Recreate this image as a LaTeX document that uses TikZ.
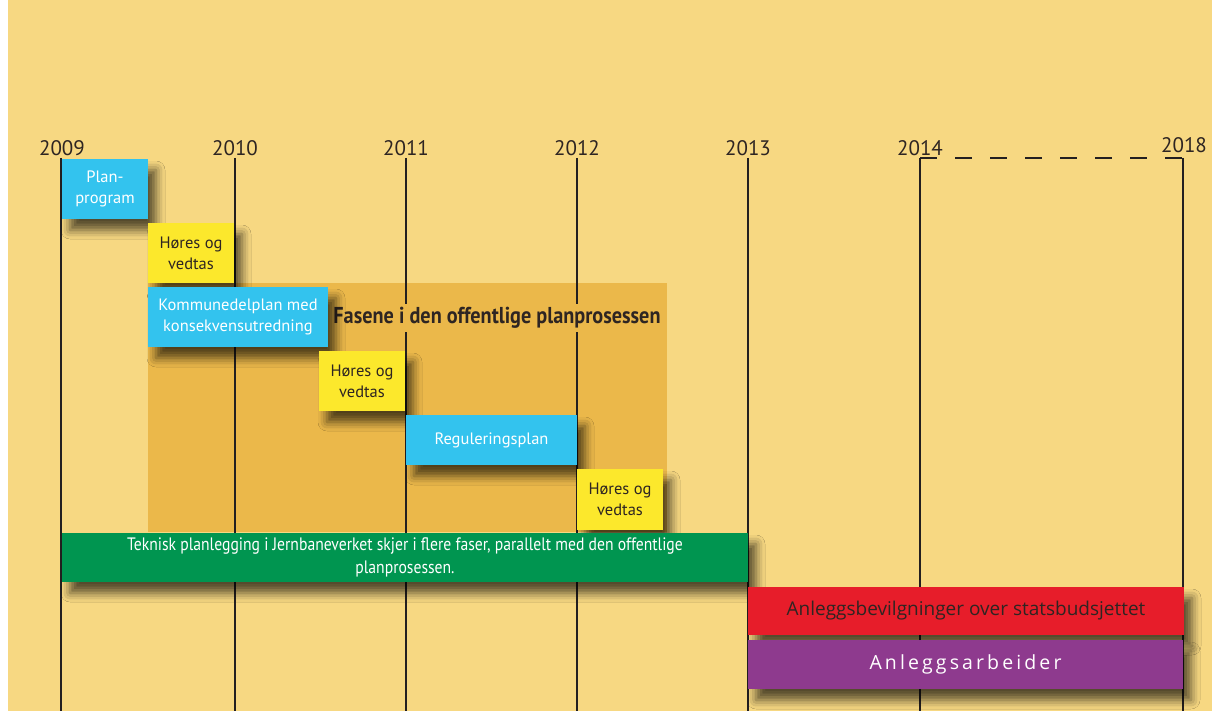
\documentclass[tikz,border=0pt]{standalone}
\usepackage{fontspec}
\setmainfont{PT Sans}
\newfontfamily\narrowfont[FakeStretch=0.87]{PT Sans}
\newfontfamily\titlefont[FakeStretch=0.88]{PT Sans}
\newfontfamily\widefont{Open Sans}
\usetikzlibrary{shadows.blur}

\definecolor{bgyellow}{HTML}{F7D882}
\definecolor{phaseorange}{HTML}{EBB84A}
\definecolor{planblue}{HTML}{33C3EE}
\definecolor{hearyellow}{HTML}{FCE82C}
\definecolor{techgreen}{HTML}{009550}
\definecolor{budgetred}{HTML}{E71D2A}
\definecolor{buildpurple}{HTML}{8E3A8E}
\definecolor{textdark}{HTML}{2E2522}
\definecolor{linedark}{HTML}{231F20}

\tikzset{
  yearline/.style={line width=2pt, draw=linedark},
  yearlabel/.style={anchor=base, text=textdark, font=\fontsize{21}{21}\selectfont},
  phase/.style={rectangle, inner sep=0pt, align=center,
    blur shadow={shadow xshift=8pt, shadow yshift=-11pt, shadow blur radius=9pt, shadow opacity=65}},
  planbox/.style={phase, fill=planblue, text=white, font=\fontsize{16.5}{21}\selectfont},
  hearbox/.style={phase, fill=hearyellow, text=textdark, font=\fontsize{16.5}{21}\selectfont},
}

\begin{document}
\begin{tikzpicture}[x=1pt, y=-1pt]
      \useasboundingbox (0,0) rectangle (1219,711);
      \fill[bgyellow] (8,0) rectangle (1212,711);

      % Area for the public planning process
      \node[fill=phaseorange, inner sep=0pt, minimum width=519pt, minimum height=249pt] (offentlig) at (407.5,407.5) {};

      % Year lines
      \foreach \yr/\xx in {2009/61, 2010/235, 2011/406, 2012/577, 2013/748, 2014/920, 2018/1183} {
        \coordinate (top\yr) at (\xx,158);
        \coordinate (bot\yr) at (\xx,711);
        \draw[yearline] (top\yr) -- (bot\yr);
      }
      \foreach \yr/\xx in {2009/62, 2010/235, 2011/406, 2012/577, 2013/748, 2014/920} {
        \node[yearlabel] (lab\yr) at (\xx,156) {\yr};
      }
      \node[yearlabel] (lab2018) at (1184,153) {2018};
      \draw[yearline, dash pattern=on 17pt off 18pt] (top2014) -- (top2018);

      \node[fill=phaseorange, inner xsep=1pt, inner ysep=3pt, text=textdark,
        font=\titlefont\bfseries\fontsize{23}{23}\selectfont] (fasene) at (497,318) {Fasene i den offentlige planprosessen};

      % Phases
      \node[planbox, minimum width=86pt, minimum height=60pt] (planprogram) at (105,189) {Plan-\\program};
      \node[hearbox, minimum width=86pt, minimum height=60pt] (hoering1) at (191,253) {Høres og\\vedtas};
      \node[planbox, minimum width=180pt, minimum height=60pt] (kommunedel) at (238,317) {Kommunedelplan med\\konsekvensutredning};
      \node[hearbox, minimum width=86pt, minimum height=60pt] (hoering2) at (362,381) {Høres og\\vedtas};
      \node[planbox, minimum width=171pt, minimum height=50pt] (regulering) at (491.5,440) {Reguleringsplan};
      \node[hearbox, minimum width=86pt, minimum height=61pt] (hoering3) at (620,499.5) {Høres og\\vedtas};

      % Technical planning and construction
      \node[phase, fill=techgreen, text=white, font=\narrowfont\fontsize{18}{23}\selectfont,
        minimum width=686pt, minimum height=49pt] (teknisk) at (405,557.5)
        {Teknisk planlegging i Jernbaneverket skjer i flere faser, parallelt med den offentlige\\planprosessen.};
      \node[phase, fill=budgetred, text=textdark, font=\widefont\fontsize{19}{19}\selectfont,
        minimum width=436pt, minimum height=48pt] (bevilgning) at (966,611) {Anleggsbevilgninger over statsbudsjettet};
      \node[phase, fill=buildpurple, text=white, font=\widefont\addfontfeature{LetterSpace=16}\fontsize{19.5}{19.5}\selectfont,
        minimum width=435pt, minimum height=49pt] (anlegg) at (965.5,664.5) {Anleggsarbeider};
\end{tikzpicture}
\end{document}
